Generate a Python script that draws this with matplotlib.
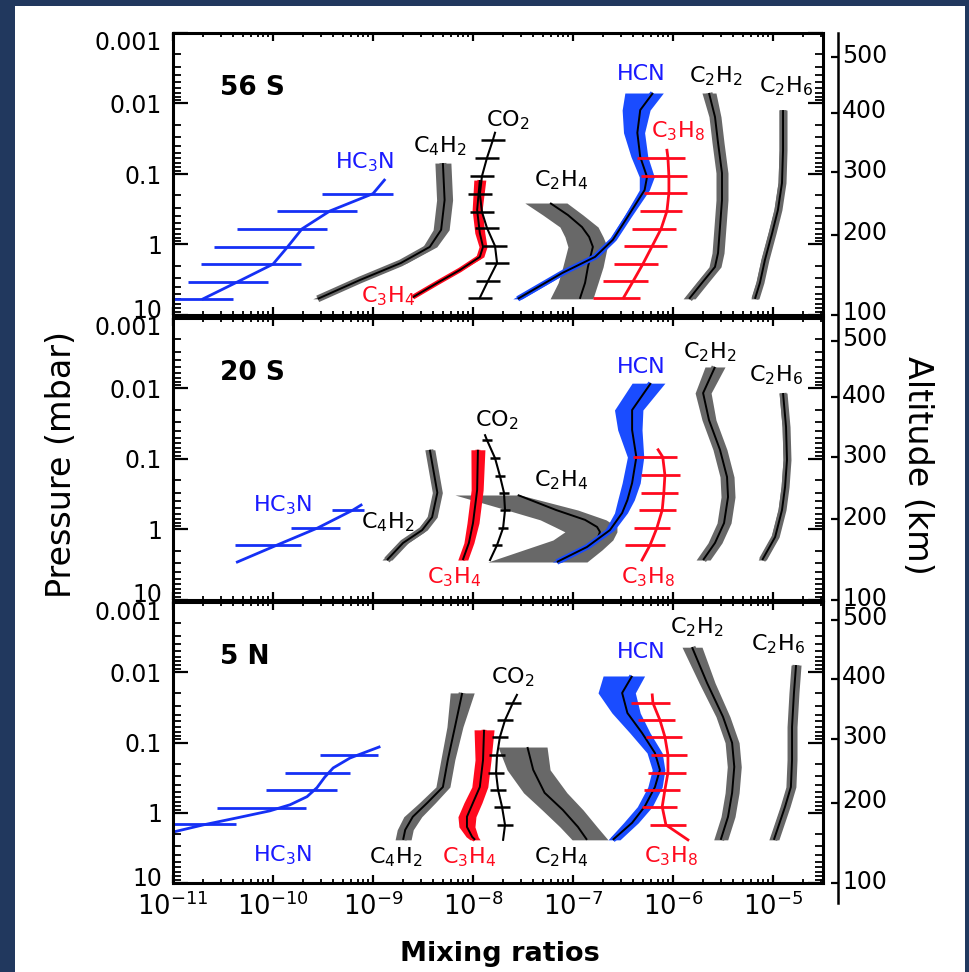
import numpy as np
import matplotlib
matplotlib.use("Agg")
import matplotlib.pyplot as plt
from matplotlib.lines import Line2D
from matplotlib.patches import Rectangle
from matplotlib.transforms import ScaledTranslation
from matplotlib.ticker import LogLocator, FixedLocator, FixedFormatter, NullLocator, NullFormatter

plt.rcParams['font.family'] = ['DejaVu Sans']
plt.rcParams['mathtext.fontset'] = 'dejavusans'

# ------------------------------------------------------------------
# Retrieved mixing-ratio profiles (pressure in mbar)
# ------------------------------------------------------------------
LATITUDES = ['56 S', '20 S', '5 N']
ALT_KM = [500, 400, 300, 200, 100]

# ---------------- 56 S ----------------
S56_ALT_P = [0.0022, 0.0136, 0.094, 0.73, 10]
S56_HC3N_P = [5.9, 3.4, 1.9, 1.08, 0.60, 0.335, 0.19, 0.122]
S56_HC3N_X = [2.0e-11, 4.4e-11, 1.0e-10, 1.4e-10, 1.95e-10, 3.7e-10, 1.0e-9, 1.3e-9]
S56_HC3N_BAR_P = [5.9, 3.4, 1.9, 1.08, 0.60, 0.335, 0.19]
S56_HC3N_BAR_LO = [0.9e-11, 1.4e-11, 1.9e-11, 2.6e-11, 4.4e-11, 1.1e-10, 3.1e-10]
S56_HC3N_BAR_HI = [4.0e-11, 8.9e-11, 1.9e-10, 2.6e-10, 3.5e-10, 6.9e-10, 1.6e-9]
S56_C4H2_P = [0.070, 0.234, 0.62, 1.08, 1.83, 3.19, 5.9]
S56_C4H2_X = [5.0e-9, 5.2e-9, 4.8e-9, 3.7e-9, 1.9e-9, 7.4e-10, 2.8e-10]
S56_C4H2_W = [0.08, 0.08, 0.08, 0.07, 0.06, 0.05, 0.05]
S56_C3H4_P = [0.122, 0.324, 0.69, 1.08, 1.50, 2.30, 3.5, 5.6]
S56_C3H4_X = [1.17e-8, 1.1e-8, 1.17e-8, 1.26e-8, 1.17e-8, 7.4e-9, 4.4e-9, 2.5e-9]
S56_C3H4_W = [0.06, 0.05, 0.05, 0.04, 0.04, 0.02, 0.02, 0.02]
S56_CO2_P = [0.026, 0.033, 0.059, 0.107, 0.192, 0.346, 0.583, 1.05, 1.83, 3.3, 5.7]
S56_CO2_X = [1.66e-8, 1.58e-8, 1.38e-8, 1.23e-8, 1.17e-8, 1.23e-8, 1.38e-8, 1.66e-8, 1.74e-8, 1.41e-8, 1.17e-8]
S56_CO2_BAR_P = [0.033, 0.059, 0.107, 0.192, 0.346, 0.583, 1.05, 1.83, 3.3, 5.7]
S56_CO2_ERR = 0.12
S56_C2H4_P = [0.258, 0.382, 0.565, 0.78, 1.08, 2.08, 3.5, 5.9]
S56_C2H4_X = [5.9e-8, 8.9e-8, 1.23e-7, 1.45e-7, 1.58e-7, 1.41e-7, 1.32e-7, 1.17e-7]
S56_C2H4_LO = [3.3e-8, 5.0e-8, 7.4e-8, 8.3e-8, 8.9e-8, 7.9e-8, 7.1e-8, 5.9e-8]
S56_C2H4_HI = [8.7e-8, 1.26e-7, 1.78e-7, 2.0e-7, 2.2e-7, 2.0e-7, 1.78e-7, 1.58e-7]
S56_HCN_P = [0.0071, 0.0124, 0.026, 0.057, 0.110, 0.169, 0.41, 0.86, 1.50, 2.54, 5.9]
S56_HCN_X = [6.3e-7, 4.7e-7, 4.4e-7, 4.7e-7, 5.5e-7, 5.2e-7, 3.5e-7, 2.5e-7, 1.66e-7, 7.8e-8, 2.8e-8]
S56_HCN_LO = [3.3e-7, 3.1e-7, 3.2e-7, 3.8e-7, 4.6e-7, 4.6e-7, 3.2e-7, 2.3e-7, 1.5e-7, 7.0e-8, 2.5e-8]
S56_HCN_HI = [8.0e-7, 5.9e-7, 5.2e-7, 5.6e-7, 6.5e-7, 5.8e-7, 3.8e-7, 2.7e-7, 1.8e-7, 8.6e-8, 3.1e-8]
S56_C3H8_P = [0.046, 0.059, 0.107, 0.186, 0.335, 0.60, 1.05, 1.89, 3.3, 5.7]
S56_C3H8_X = [8.7e-7, 8.9e-7, 9.1e-7, 9.1e-7, 8.7e-7, 7.6e-7, 6.2e-7, 5.0e-7, 4.0e-7, 3.2e-7]
S56_C3H8_BAR_P = [0.059, 0.107, 0.186, 0.335, 0.60, 1.05, 1.89, 3.3, 5.7]
S56_C3H8_BAR_LO = [4.4e-7, 4.8e-7, 5.1e-7, 4.7e-7, 3.9e-7, 3.2e-7, 2.6e-7, 2.0e-7, 1.58e-7]
S56_C3H8_BAR_HI = [1.32e-6, 1.38e-6, 1.38e-6, 1.23e-6, 1.07e-6, 8.7e-7, 7.1e-7, 5.6e-7, 4.7e-7]
S56_C2H2_P = [0.0071, 0.0155, 0.036, 0.097, 0.234, 0.565, 1.32, 2.08, 3.5, 5.9]
S56_C2H2_X = [2.29e-6, 2.63e-6, 2.82e-6, 3.09e-6, 3.09e-6, 2.95e-6, 2.82e-6, 2.63e-6, 1.95e-6, 1.45e-6]
S56_C2H2_W = [0.07, 0.06, 0.06, 0.06, 0.06, 0.06, 0.06, 0.06, 0.06, 0.06]
S56_C2H6_P = [0.0124, 0.046, 0.134, 0.324, 0.69, 1.66, 3.5, 5.9]
S56_C2H6_X = [1.26e-5, 1.26e-5, 1.23e-5, 1.12e-5, 9.8e-6, 8.3e-6, 7.4e-6, 6.6e-6]
S56_C2H6_W = [0.04, 0.04, 0.04, 0.04, 0.04, 0.04, 0.04, 0.04]

# ---------------- 20 S ----------------
S20_ALT_P = [0.0021, 0.0132, 0.094, 0.71, 10]
S20_HC3N_P = [2.89, 1.66, 0.95, 0.53, 0.45]
S20_HC3N_X = [4.4e-11, 1.1e-10, 2.8e-10, 6.3e-10, 7.6e-10]
S20_HC3N_BAR_P = [1.66, 0.95, 0.53]
S20_HC3N_BAR_LO = [4.2e-11, 1.5e-10, 3.9e-10]
S20_HC3N_BAR_HI = [1.9e-10, 4.7e-10, 8.1e-10]
S20_C4H2_P = [0.074, 0.30, 0.67, 1.02, 1.55, 2.71]
S20_C4H2_X = [3.7e-9, 4.4e-9, 3.9e-9, 3.1e-9, 2.0e-9, 1.38e-9]
S20_C4H2_W = [0.05, 0.05, 0.05, 0.05, 0.05, 0.05]
S20_C3H4_P = [0.074, 0.275, 0.81, 1.55, 2.71]
S20_C3H4_X = [1.12e-8, 1.1e-8, 1.0e-8, 9.1e-9, 7.9e-9]
S20_C3H4_W = [0.07, 0.06, 0.06, 0.05, 0.05]
S20_CO2_P = [0.046, 0.054, 0.097, 0.174, 0.30, 0.53, 0.95, 1.66, 2.71]
S20_CO2_X = [1.32e-8, 1.38e-8, 1.66e-8, 1.86e-8, 2.04e-8, 2.09e-8, 2.0e-8, 1.74e-8, 1.48e-8]
S20_CO2_BAR_P = [0.054, 0.097, 0.174, 0.30, 0.53, 0.95, 1.66]
S20_CO2_ERR = 0.05
S20_C2H4_P = [0.324, 0.53, 0.73, 0.92, 1.08, 1.41, 1.95, 2.89]
S20_C2H4_X = [2.8e-8, 6.8e-8, 1.32e-7, 1.74e-7, 1.86e-7, 1.74e-7, 1.26e-7, 7.4e-8]
S20_C2H4_LO = [6.6e-9, 2.19e-8, 4.7e-8, 6.6e-8, 8.3e-8, 6.3e-8, 3.2e-8, 1.41e-8]
S20_C2H4_HI = [2.95e-8, 1.12e-7, 2.14e-7, 2.75e-7, 2.75e-7, 2.5e-7, 1.95e-7, 1.38e-7]
S20_HCN_P = [0.0084, 0.0202, 0.0388, 0.094, 0.219, 0.382, 0.583, 1.02, 1.77, 2.89]
S20_HCN_X = [6.0e-7, 3.9e-7, 3.9e-7, 4.3e-7, 3.9e-7, 3.5e-7, 3.1e-7, 2.34e-7, 1.38e-7, 6.9e-8]
S20_HCN_LO = [3.9e-7, 2.6e-7, 2.8e-7, 3.5e-7, 3.1e-7, 2.8e-7, 2.6e-7, 2.09e-7, 1.23e-7, 6.2e-8]
S20_HCN_HI = [8.3e-7, 5.0e-7, 4.9e-7, 5.1e-7, 4.7e-7, 4.1e-7, 3.5e-7, 2.6e-7, 1.51e-7, 7.8e-8]
S20_C3H8_P = [0.074, 0.094, 0.169, 0.30, 0.53, 0.95, 1.66, 2.71]
S20_C3H8_X = [7.1e-7, 7.9e-7, 8.3e-7, 8.1e-7, 7.8e-7, 6.9e-7, 5.9e-7, 4.9e-7]
S20_C3H8_BAR_P = [0.094, 0.169, 0.30, 0.53, 0.95, 1.66]
S20_C3H8_BAR_LO = [4.0e-7, 4.8e-7, 4.8e-7, 4.6e-7, 4.1e-7, 3.3e-7]
S20_C3H8_BAR_HI = [1.10e-6, 1.17e-6, 1.12e-6, 1.07e-6, 9.3e-7, 8.3e-7]
S20_C2H2_P = [0.00495, 0.0116, 0.028, 0.074, 0.18, 0.346, 0.81, 1.55, 2.71]
S20_C2H2_X = [2.63e-6, 2.0e-6, 2.29e-6, 2.95e-6, 3.47e-6, 3.55e-6, 3.24e-6, 2.63e-6, 2.0e-6]
S20_C2H2_W = [0.10, 0.08, 0.07, 0.07, 0.07, 0.07, 0.07, 0.07, 0.07]
S20_C2H6_P = [0.0116, 0.035, 0.103, 0.249, 0.53, 1.28, 2.71]
S20_C2H6_X = [1.26e-5, 1.35e-5, 1.38e-5, 1.32e-5, 1.23e-5, 1.05e-5, 7.8e-6]
S20_C2H6_W = [0.04, 0.04, 0.04, 0.04, 0.04, 0.04, 0.04]

# ---------------- 5 N ----------------
N05_ALT_P = [0.0018, 0.0124, 0.089, 0.72, 10]
N05_HC3N_P = [1.93, 1.49, 1.18, 0.94, 0.77, 0.59, 0.44, 0.31, 0.23, 0.166, 0.116]
N05_HC3N_X = [9.3e-12, 2.0e-11, 4.4e-11, 9.3e-11, 1.48e-10, 2.19e-10, 2.75e-10, 3.3e-10, 4.0e-10, 5.9e-10, 1.15e-9]
N05_HC3N_BAR_P = [1.44, 0.85, 0.47, 0.27, 0.15]
N05_HC3N_BAR_LO = [8.0e-12, 2.75e-11, 8.5e-11, 1.32e-10, 2.95e-10]
N05_HC3N_BAR_HI = [4.3e-11, 2.14e-10, 4.4e-10, 5.9e-10, 1.12e-9]
N05_C4H2_P = [0.0197, 0.060, 0.177, 0.43, 0.72, 1.14, 1.75, 2.43]
N05_C4H2_X = [7.8e-9, 6.6e-9, 5.6e-9, 5.0e-9, 3.5e-9, 2.5e-9, 2.1e-9, 2.0e-9]
N05_C4H2_W = [0.12, 0.08, 0.07, 0.07, 0.08, 0.09, 0.08, 0.08]
N05_C3H4_P = [0.066, 0.177, 0.43, 0.72, 1.14, 1.59, 2.2, 2.43]
N05_C3H4_X = [1.29e-8, 1.26e-8, 1.17e-8, 1.0e-8, 8.7e-9, 8.7e-9, 9.8e-9, 1.05e-8]
N05_C3H4_W = [0.10, 0.08, 0.08, 0.09, 0.09, 0.08, 0.06, 0.05]
N05_CO2_P = [0.021, 0.0274, 0.048, 0.083, 0.15, 0.27, 0.47, 0.82, 1.49, 2.43]
N05_CO2_X = [2.75e-8, 2.5e-8, 2.09e-8, 1.86e-8, 1.74e-8, 1.70e-8, 1.78e-8, 1.95e-8, 2.09e-8, 2.0e-8]
N05_CO2_BAR_P = [0.0274, 0.048, 0.083, 0.15, 0.27, 0.47, 0.82, 1.49]
N05_CO2_ERR = 0.08
N05_C2H4_P = [0.116, 0.245, 0.52, 0.91, 1.59, 2.43]
N05_C2H4_X = [3.5e-8, 4.0e-8, 5.2e-8, 7.9e-8, 1.12e-7, 1.38e-7]
N05_C2H4_LO = [1.78e-8, 2.19e-8, 3.2e-8, 4.9e-8, 7.4e-8, 9.8e-8]
N05_C2H4_HI = [5.5e-8, 5.9e-8, 8.7e-8, 1.26e-7, 1.74e-7, 2.24e-7]
N05_HCN_P = [0.0113, 0.0197, 0.038, 0.073, 0.141, 0.245, 0.43, 0.82, 1.39, 2.43]
N05_HCN_X = [3.9e-7, 3.1e-7, 3.5e-7, 4.9e-7, 6.6e-7, 7.4e-7, 6.6e-7, 5.2e-7, 3.9e-7, 2.5e-7]
N05_HCN_LO = [2.0e-7, 1.78e-7, 2.45e-7, 3.7e-7, 5.5e-7, 6.2e-7, 5.6e-7, 4.4e-7, 3.2e-7, 2.24e-7]
N05_HCN_HI = [5.2e-7, 4.2e-7, 4.7e-7, 5.9e-7, 7.8e-7, 8.3e-7, 7.8e-7, 6.2e-7, 4.5e-7, 2.95e-7]
N05_C3H8_P = [0.021, 0.0274, 0.048, 0.083, 0.15, 0.27, 0.47, 0.82, 1.49, 2.43]
N05_C3H8_X = [6.2e-7, 6.3e-7, 7.4e-7, 8.3e-7, 8.9e-7, 8.9e-7, 8.3e-7, 7.8e-7, 8.5e-7, 1.41e-6]
N05_C3H8_BAR_P = [0.0274, 0.048, 0.083, 0.15, 0.27, 0.47, 0.82, 1.49]
N05_C3H8_BAR_LO = [3.8e-7, 4.5e-7, 5.4e-7, 6.0e-7, 5.6e-7, 5.1e-7, 4.9e-7, 5.9e-7]
N05_C3H8_BAR_HI = [9.3e-7, 1.05e-6, 1.23e-6, 1.38e-6, 1.35e-6, 1.17e-6, 1.10e-6, 1.35e-6]
N05_C2H2_P = [0.0044, 0.0142, 0.043, 0.101, 0.222, 0.52, 1.14, 2.43]
N05_C2H2_X = [1.55e-6, 2.19e-6, 3.16e-6, 3.9e-6, 4.1e-6, 3.9e-6, 3.55e-6, 3.0e-6]
N05_C2H2_W = [0.10, 0.08, 0.07, 0.07, 0.07, 0.07, 0.07, 0.07]
N05_C2H6_P = [0.0079, 0.0197, 0.060, 0.177, 0.43, 0.82, 2.43]
N05_C2H6_X = [1.70e-5, 1.62e-5, 1.55e-5, 1.55e-5, 1.51e-5, 1.32e-5, 1.02e-5]
N05_C2H6_W = [0.05, 0.05, 0.05, 0.05, 0.05, 0.05, 0.05]

PRESSURE_TICKS = [0.001, 0.01, 0.1, 1, 10]
PRESSURE_TICK_LABELS = ['0.001', '0.01', '0.1', '1', '10']
X_DECADES = [1e-11, 1e-10, 1e-9, 1e-8, 1e-7, 1e-6, 1e-5]
X_DECADE_LABELS = [r'$10^{-11}$', r'$10^{-10}$', r'$10^{-9}$', r'$10^{-8}$',
                   r'$10^{-7}$', r'$10^{-6}$', r'$10^{-5}$']


def panel(prefix):
    g = globals()
    d = {}
    for key in ['ALT_P', 'HC3N_P', 'HC3N_X', 'HC3N_BAR_P', 'HC3N_BAR_LO', 'HC3N_BAR_HI',
                'C4H2_P', 'C4H2_X', 'C4H2_W', 'C3H4_P', 'C3H4_X', 'C3H4_W',
                'CO2_P', 'CO2_X', 'CO2_BAR_P', 'CO2_ERR',
                'C2H4_P', 'C2H4_X', 'C2H4_LO', 'C2H4_HI',
                'HCN_P', 'HCN_X', 'HCN_LO', 'HCN_HI',
                'C3H8_P', 'C3H8_X', 'C3H8_BAR_P', 'C3H8_BAR_LO', 'C3H8_BAR_HI',
                'C2H2_P', 'C2H2_X', 'C2H2_W', 'C2H6_P', 'C2H6_X', 'C2H6_W']:
        d[key] = g[prefix + '_' + key]
    return d


PANELS = [panel('S56'), panel('S20'), panel('N05')]

# species label placement (axes fraction) for each panel
LABELS = [
    [(r'HC$_3$N', 'blue', 0.295, 0.543), (r'C$_4$H$_2$', 'k', 0.411, 0.599),
     (r'C$_3$H$_4$', 'red', 0.331, 0.067), (r'CO$_2$', 'k', 0.515, 0.691),
     (r'C$_2$H$_4$', 'k', 0.597, 0.479), ('HCN', 'blue', 0.720, 0.855),
     (r'C$_3$H$_8$', 'red', 0.777, 0.652), (r'C$_2$H$_2$', 'k', 0.835, 0.848),
     (r'C$_2$H$_6$', 'k', 0.943, 0.812)],
    [(r'HC$_3$N', 'blue', 0.168, 0.337), (r'C$_4$H$_2$', 'k', 0.331, 0.277),
     (r'C$_3$H$_4$', 'red', 0.432, 0.082), (r'CO$_2$', 'k', 0.498, 0.638),
     (r'C$_2$H$_4$', 'k', 0.597, 0.426), ('HCN', 'blue', 0.720, 0.826),
     (r'C$_3$H$_8$', 'red', 0.731, 0.082), (r'C$_2$H$_2$', 'k', 0.825, 0.879),
     (r'C$_2$H$_6$', 'k', 0.928, 0.798)],
    [(r'HC$_3$N', 'blue', 0.168, 0.100), (r'C$_4$H$_2$', 'k', 0.342, 0.093),
     (r'C$_3$H$_4$', 'red', 0.455, 0.093), (r'CO$_2$', 'k', 0.523, 0.733),
     (r'C$_2$H$_4$', 'k', 0.597, 0.093), ('HCN', 'blue', 0.720, 0.822),
     (r'C$_3$H$_8$', 'red', 0.766, 0.096), (r'C$_2$H$_2$', 'k', 0.805, 0.911),
     (r'C$_2$H$_6$', 'k', 0.931, 0.851)],
]

# ------------------------------------------------------------------
# styling
# ------------------------------------------------------------------
NAVY = '#21385e'
GRAY = '#686868'
BLUE_BAND = '#1a4cff'
BLUE = '#1530f5'
LABEL_BLUE = '#1a1aff'
RED = '#ff0a1e'
COLORS = {'k': 'black', 'blue': LABEL_BLUE, 'red': RED}

W, H = 970, 972
fig = plt.figure(figsize=(W / 100, H / 100), dpi=100, facecolor=NAVY)
fig.add_artist(Rectangle((15 / W, 0), 950 / W, 1 - 6 / H, transform=fig.transFigure,
                         facecolor='white', edgecolor='none', zorder=0))

AX_LEFT, AX_RIGHT = 173, 823
AX_ROWS = [(33, 315), (318, 600), (602, 883)]
ALT_X = 838


def shift(text, dy_px):
    text.set_transform(text.get_transform()
                       + ScaledTranslation(0, dy_px / 100, fig.dpi_scale_trans))


def sym_band(x, w):
    x = np.asarray(x)
    f = 10 ** np.asarray(w)
    return x / f, x * f


def draw_band(ax, p, mid, lo, hi, color, under_lw, z):
    ax.fill_betweenx(p, lo, hi, color=color, lw=0, zorder=z)
    if under_lw:
        ax.plot(mid, p, color=color, lw=under_lw, solid_capstyle='butt', zorder=z)
    ax.plot(mid, p, color='black', lw=1.4, solid_capstyle='butt', zorder=z + 0.5)


for i, (d, (top, bot)) in enumerate(zip(PANELS, AX_ROWS)):
    rect = [AX_LEFT / W, 1 - bot / H, (AX_RIGHT - AX_LEFT) / W, (bot - top) / H]
    ax = fig.add_axes(rect)
    ax.set_xscale('log')
    ax.set_yscale('log')
    ax.set_xlim(1e-11, 10 ** -4.5)
    ax.set_ylim(10, 0.001)

    # wide gray bands
    draw_band(ax, d['C2H4_P'], d['C2H4_X'], d['C2H4_LO'], d['C2H4_HI'], GRAY, 0, 2)
    # narrow gray bands
    for sp in ['C4H2', 'C2H2', 'C2H6']:
        lo, hi = sym_band(d[sp + '_X'], d[sp + '_W'])
        draw_band(ax, d[sp + '_P'], d[sp + '_X'], lo, hi, GRAY, 5, 2)
    # C3H4 (red band)
    lo, hi = sym_band(d['C3H4_X'], d['C3H4_W'])
    draw_band(ax, d['C3H4_P'], d['C3H4_X'], lo, hi, RED, 3.5, 3)
    # HCN (blue band)
    draw_band(ax, d['HCN_P'], d['HCN_X'], d['HCN_LO'], d['HCN_HI'], BLUE_BAND, 4.0, 3)

    # HC3N
    ax.plot(d['HC3N_X'], d['HC3N_P'], color=BLUE, lw=2.0, zorder=5)
    ax.hlines(d['HC3N_BAR_P'], d['HC3N_BAR_LO'], d['HC3N_BAR_HI'], color=BLUE, lw=2.0, zorder=5)

    # CO2
    ax.plot(d['CO2_X'], d['CO2_P'], color='black', lw=1.5, zorder=5)
    cx = np.interp(np.log10(d['CO2_BAR_P']), np.log10(d['CO2_P']), np.log10(d['CO2_X']))
    ax.hlines(d['CO2_BAR_P'], 10 ** (cx - d['CO2_ERR']), 10 ** (cx + d['CO2_ERR']),
              color='black', lw=1.8, zorder=5)

    # C3H8
    ax.plot(d['C3H8_X'], d['C3H8_P'], color=RED, lw=2.0, zorder=6)
    ax.hlines(d['C3H8_BAR_P'], d['C3H8_BAR_LO'], d['C3H8_BAR_HI'], color=RED, lw=2.0, zorder=6)

    # axes decoration
    for s in ax.spines.values():
        s.set_linewidth(2.2)
        s.set_zorder(10)
    ax.xaxis.set_major_locator(FixedLocator(X_DECADES))
    ax.xaxis.set_minor_locator(LogLocator(base=10, subs=np.arange(2, 10), numticks=30))
    ax.xaxis.set_minor_formatter(NullFormatter())
    if i == 2:
        ax.xaxis.set_major_formatter(FixedFormatter(X_DECADE_LABELS))
    else:
        ax.xaxis.set_major_formatter(NullFormatter())
    ax.yaxis.set_major_locator(FixedLocator(PRESSURE_TICKS))
    ax.yaxis.set_major_formatter(FixedFormatter(PRESSURE_TICK_LABELS))
    ax.yaxis.set_minor_locator(LogLocator(base=10, subs=np.arange(2, 10), numticks=30))
    ax.yaxis.set_minor_formatter(NullFormatter())
    ax.tick_params(axis='both', which='both', direction='in', top=True, right=True)
    ax.tick_params(axis='x', which='major', length=6, width=1.6, labelsize=18.5, pad=7)
    ax.tick_params(axis='x', which='minor', length=3.2, width=1.3)
    ax.tick_params(axis='y', which='major', length=11, width=1.6, labelsize=17, pad=8)
    ax.tick_params(axis='y', which='minor', length=5.5, width=1.3)

    yticks = ax.yaxis.get_major_ticks()
    shift(yticks[0].label1, -8)
    shift(yticks[-1].label1, 7)

    ax.text(0.072, 1 - 55 / 282, LATITUDES[i], transform=ax.transAxes, fontsize=19,
            fontweight='bold', ha='left', va='center')
    for txt, c, fx, fy in LABELS[i]:
        ax.text(fx, fy, txt, transform=ax.transAxes, color=COLORS[c], fontsize=16,
                ha='center', va='center', zorder=8)

    # altitude scale
    aa = fig.add_axes([ALT_X / W, rect[1], 0.0001, rect[3]])
    aa.set_yscale('log')
    aa.set_ylim(10, 0.001)
    for s in aa.spines.values():
        s.set_visible(False)
    aa.patch.set_visible(False)
    aa.xaxis.set_visible(False)
    aa.yaxis.set_major_locator(FixedLocator(d['ALT_P']))
    aa.yaxis.set_major_formatter(FixedFormatter([str(a) for a in ALT_KM]))
    aa.yaxis.set_minor_locator(NullLocator())
    aa.tick_params(axis='y', which='major', direction='out', left=True, right=False,
                   labelleft=False, labelright=True, length=5, width=1.6,
                   labelsize=17, pad=-2)
    for t in aa.yaxis.get_major_ticks():
        shift(t.label2, 4)

fig.add_artist(Line2D([ALT_X / W, ALT_X / W], [1 - 33 / H, 1 - 903 / H],
                      transform=fig.transFigure, color='black', lw=1.8))

fig.text(500 / W, 1 - 954 / H, 'Mixing ratios', fontsize=19.5, fontweight='bold',
         ha='center', va='center')
fig.text(62 / W, 1 - 465 / H, 'Pressure (mbar)', fontsize=24, rotation=90,
         ha='center', va='center')
fig.text(918 / W, 1 - 465 / H, 'Altitude (km)', fontsize=24, rotation=270,
         ha='center', va='center')

fig.savefig('out.png', dpi=100, facecolor=NAVY)
